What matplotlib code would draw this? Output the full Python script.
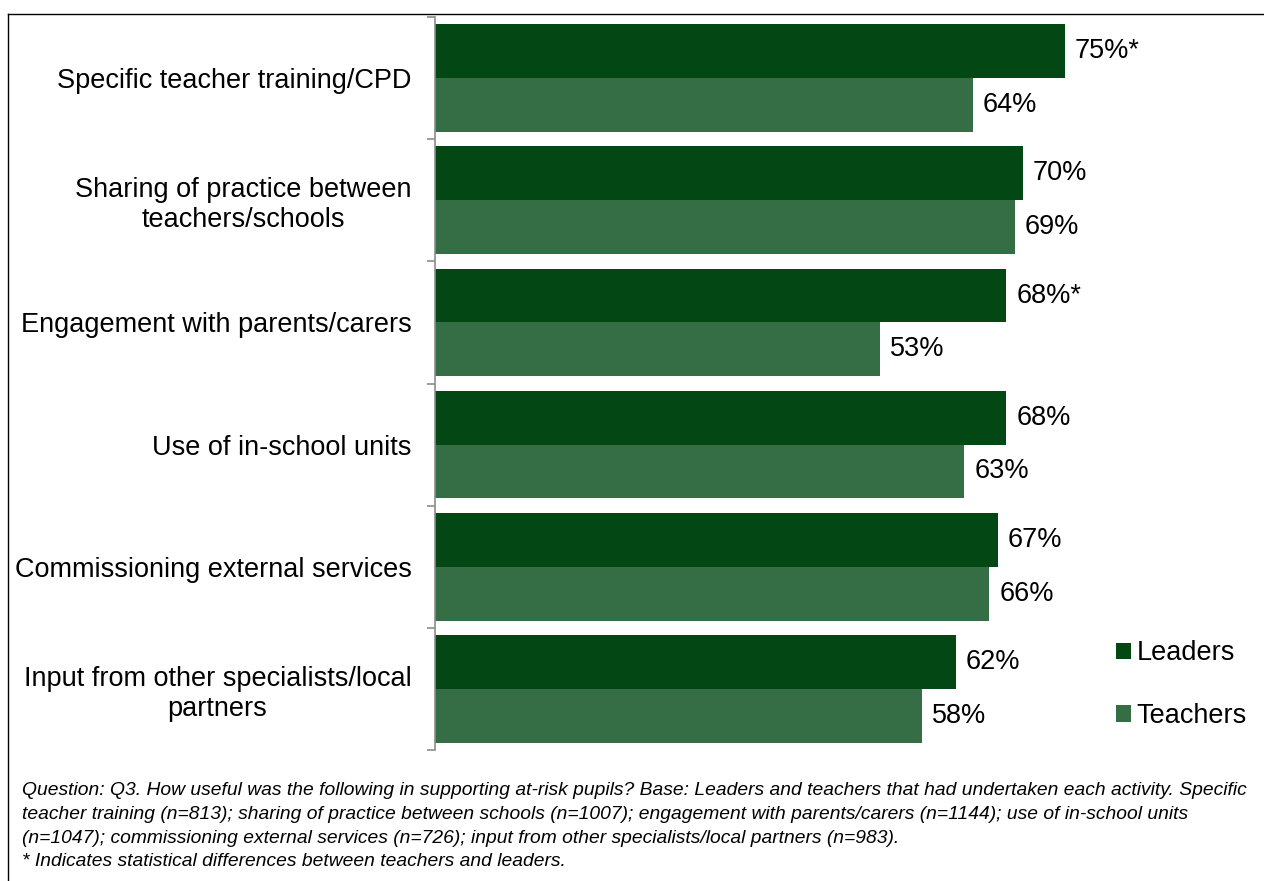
import matplotlib.pyplot as plt
import numpy as np
from matplotlib.lines import Line2D

plt.rcParams["font.family"] = ["Liberation Sans", "DejaVu Sans"]

categories = [
    "Specific teacher training/CPD",
    "Sharing of practice between\nteachers/schools",
    "Engagement with parents/carers",
    "Use of in-school units",
    "Commissioning external services",
    "Input from other specialists/local\npartners",
]
leaders = [75, 70, 68, 68, 67, 62]
teachers = [64, 69, 53, 63, 66, 58]
# asterisk marks a significant difference between the two groups
significant = [True, False, True, False, False, False]

footnote = (
    "Question: Q3. How useful was the following in supporting at-risk pupils? Base: Leaders and teachers that had undertaken each activity. Specific\n"
    "teacher training (n=813); sharing of practice between schools (n=1007); engagement with parents/carers (n=1144); use of in-school units\n"
    "(n=1047); commissioning external services (n=726); input from other specialists/local partners (n=983).\n"
    "* Indicates statistical differences between teachers and leaders."
)

LEADER_COLOR = "#034814"
TEACHER_COLOR = "#356E45"
FS = 19.5

W, H = 1264, 881
fig = plt.figure(figsize=(W / 100, H / 100), dpi=100)
ax = fig.add_axes([435 / W, (H - 750) / H, (1260 - 435) / W, (750 - 17) / H])

y = np.arange(len(categories))
bh = 0.44
b1 = ax.barh(y - bh / 2, leaders, height=bh, color=LEADER_COLOR, label="Leaders")
b2 = ax.barh(y + bh / 2, teachers, height=bh, color=TEACHER_COLOR, label="Teachers")

for i in range(len(categories)):
    lab = f"{leaders[i]}%" + ("*" if significant[i] else "")
    ax.text(leaders[i] + 1.2, y[i] - bh / 2, lab, va="center", ha="left", fontsize=FS)
    ax.text(teachers[i] + 1.2, y[i] + bh / 2, f"{teachers[i]}%", va="center", ha="left", fontsize=FS)

ax.set_xlim(0, (1260 - 435) / 8.4)
ax.set_ylim(len(categories) - 0.5, -0.5)

ax.set_yticks(y)
ax.set_yticklabels(categories, fontsize=FS)
for t in ax.get_yticklabels():
    t.set_multialignment("center")
ax.tick_params(axis="y", which="major", length=0, pad=17)
ax.set_yticks(np.arange(-0.5, len(categories)), minor=True)
ax.tick_params(axis="y", which="minor", length=6, color="#8c8c8c", width=1.2)

ax.xaxis.set_visible(False)
for s in ["top", "right", "bottom"]:
    ax.spines[s].set_visible(False)
ax.spines["left"].set_color("#8c8c8c")
ax.spines["left"].set_linewidth(1.2)

fig.legend(
    handles=[b1, b2],
    loc="upper left",
    bbox_to_anchor=(1092 / W, 1 - 616 / H),
    frameon=False,
    fontsize=FS,
    handlelength=0.55,
    handleheight=0.55,
    handletextpad=0.2,
    labelspacing=1.35,
)

fig.text(22 / W, 1 - 782 / H, footnote, fontsize=13.9, style="italic",
         va="top", ha="left", linespacing=1.52)

# outer frame (top and left edges)
fig.add_artist(Line2D([8 / W, 1], [1 - 14 / H, 1 - 14 / H], color="black", lw=1))
fig.add_artist(Line2D([8 / W, 8 / W], [0, 1 - 14 / H], color="black", lw=1))

fig.savefig("out.png", dpi=100)
